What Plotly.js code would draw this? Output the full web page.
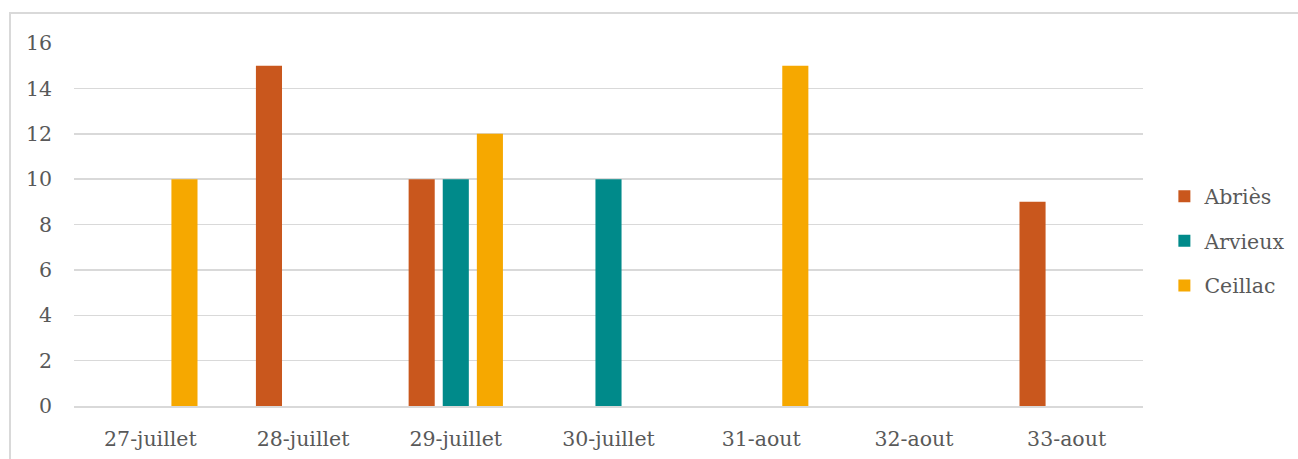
<!DOCTYPE html>
<html>
<head>
<meta charset="utf-8">
<script src="https://cdn.plot.ly/plotly-3.0.1.min.js"></script>
<style>
  html, body { margin: 0; padding: 0; background: #fff; }
  #wrap { position: relative; width: 1298px; height: 459px; overflow: hidden; }
  #chart { position: absolute; left: 0; top: 0; width: 1298px; height: 459px; }
  #frame { position: absolute; left: 9px; top: 12px; width: 1300px; height: 460px;
           border-left: 2px solid #d9d9d9; border-top: 2px solid #d9d9d9; pointer-events: none; }
</style>
</head>
<body>
<div id="wrap">
  <div id="chart"></div>
  <div id="frame"></div>
</div>
<script>
// Weekly counts per village
const categories = ["27-juillet", "28-juillet", "29-juillet", "30-juillet", "31-aout", "32-aout", "33-aout"];
const abries   = [0, 15, 10, 0, 0, 0, 9];
const arvieux  = [0, 0, 10, 10, 0, 0, 0];
const ceillac  = [10, 0, 12, 0, 15, 0, 0];
const yTicks   = [0, 2, 4, 6, 8, 10, 12, 14, 16];

const FONT = "'DejaVu Serif', serif";
const TEXT = "#595959";
const SIZE = 20.5;

const traces = [
  { name: "Abriès",  y: abries,  color: "#C9571D" },
  { name: "Arvieux", y: arvieux, color: "#008A8A" },
  { name: "Ceillac", y: ceillac, color: "#F6A800" }
].map(s => ({
  type: "bar",
  x: categories,
  y: s.y,
  name: s.name,
  legendgroup: s.name,
  marker: { color: s.color },
  hoverinfo: "x+y+name"
}));

const layout = {
  width: 1298,
  height: 459,
  margin: { l: 74, r: 155, t: 43, b: 53, pad: 0, autoexpand: false },
  paper_bgcolor: "#ffffff",
  plot_bgcolor: "#ffffff",
  font: { family: FONT, size: SIZE, color: TEXT },
  barmode: "group",
  bargap: 0.33,
  bargroupgap: 0.235,
  showlegend: true,
  legend: {
    x: 1.02, xanchor: "left",
    y: 0.455, yanchor: "middle",
    font: { family: FONT, size: SIZE, color: TEXT },
    traceorder: "grouped",
    tracegroupgap: 15,
    itemwidth: 30,
    bgcolor: "rgba(0,0,0,0)"
  },
  xaxis: {
    type: "category",
    automargin: false,
    showgrid: false,
    zeroline: false,
    showline: true,
    linecolor: "#d9d9d9",
    linewidth: 1.5,
    ticks: "",
    ticklabelstandoff: 14,
    tickfont: { family: FONT, size: SIZE, color: TEXT },
    fixedrange: true
  },
  yaxis: {
    range: [0, 16],
    automargin: false,
    tickvals: yTicks,
    ticktext: yTicks.map(String),
    showgrid: true,
    gridcolor: "#d9d9d9",
    gridwidth: 1.5,
    zeroline: false,
    showline: false,
    ticks: "",
    ticklabelstandoff: 21,
    tickfont: { family: FONT, size: SIZE, color: TEXT },
    fixedrange: true
  }
};

Plotly.newPlot("chart", traces, layout, { displayModeBar: false, staticPlot: true });
</script>
</body>
</html>
